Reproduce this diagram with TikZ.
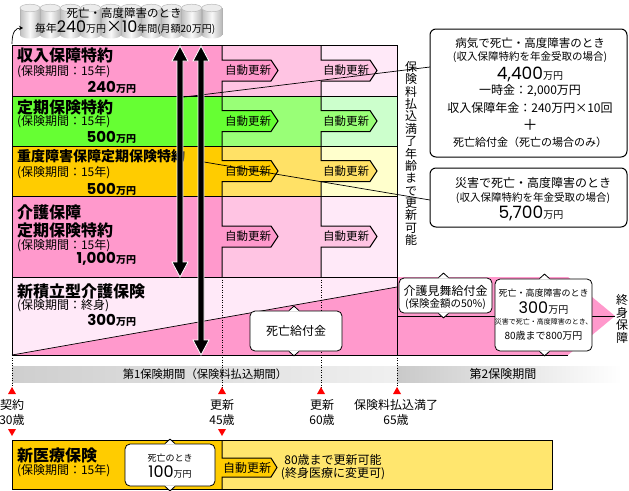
\documentclass[tikz,border=0pt]{standalone}
\usepackage{fontspec}
\setmainfont{Noto Sans CJK JP}
\newfontfamily\numf{Poppins}
\usetikzlibrary{arrows.meta}
\newcommand\fsz[1]{\fontsize{#1pt}{#1pt}\selectfont}
\definecolor{pA}{HTML}{FF99CC}
\definecolor{pB}{HTML}{FFC4E3}
\definecolor{pC}{HTML}{FFE9F8}
\definecolor{gA}{HTML}{66FF33}
\definecolor{gB}{HTML}{99FF77}
\definecolor{gC}{HTML}{CCFFCC}
\definecolor{oA}{HTML}{FFCC00}
\definecolor{oB}{HTML}{FFE166}
\definecolor{oC}{HTML}{FFFFCC}
\definecolor{yB}{HTML}{FFE66E}
\newcommand\notchup[1]{\begin{scope}[shift={(#1)}]\fill[white] (-5,1) -- (-5,0) -- (0,-4.5) -- (5,0) -- (5,1) -- cycle; \draw[line width=0.8pt] (-5,0) -- (0,-4.5) -- (5,0);\end{scope}}
\newcommand\notchdn[1]{\begin{scope}[shift={(#1)}]\fill[white] (-5,-1) -- (-5,0) -- (0,4.5) -- (5,0) -- (5,-1) -- cycle; \draw[line width=0.8pt] (-5,0) -- (0,4.5) -- (5,0);\end{scope}}
\begin{document}
\begin{tikzpicture}[x=1pt,y=-1pt,
  bline/.style={line width=1pt, black},
  thin line/.style={line width=0.7pt, black},
  t/.style={inner sep=0pt, outer sep=0pt},
  ttl/.style={t, anchor=west, font=\bfseries\fsz{16}},
  sub/.style={t, anchor=west, font=\fsz{12}},
  num/.style={t, anchor=east, font=\bfseries},
  aut/.style={t, font=\fsz{11.5}},
  callout/.style={draw, line width=1pt, rounded corners=6pt, fill=white, inner sep=0pt},
  bubble/.style={draw, line width=0.8pt, rounded corners=5pt, fill=white, inner sep=0pt},
  dline/.style={line width=0.8pt, dash pattern=on 1pt off 1.5pt},
  bigarrow/.style={fill=black, draw=white, line width=0.8pt},
  tri/.style={fill=red},
]
\useasboundingbox (0,0) rectangle (629,490);
\fill[white] (0,0) rectangle (629,490);

% ---- cylinders at top
\foreach \i in {0,...,9}{
  \pgfmathsetmacro\cx{20+20.2*\i}
  \shade[left color=gray!50, right color=gray!55, middle color=gray!5] (\cx,8) rectangle (\cx+20,35);
  \shade[left color=gray!50, right color=gray!55, middle color=gray!5] (\cx+10,35) ellipse [x radius=10, y radius=3.5];
  \draw[gray!60, line width=0.5pt] (\cx,8) -- (\cx,35) (\cx+20,8) -- (\cx+20,35);
  \fill[gray!15] (\cx+10,8) ellipse [x radius=10, y radius=3.8];
  \draw[gray!55, line width=0.5pt] (\cx+10,8) ellipse [x radius=10, y radius=3.8];
}
\node[t, font=\fsz{11.5}] (topA) at (124,13) {死亡・高度障害のとき};
\node[t] (topB) at (125,27.5) {\fsz{11}毎年\numf\fsz{16}240\rmfamily\fsz{10}万円\fsz{16}×\numf 10\rmfamily\fsz{10}年間(月額20万円)};
\coordinate (ca1) at (12,44);
\coordinate (ca2) at (23,28);
\draw[line width=0.7pt, -{Stealth[length=4pt,width=4.5pt]}] (ca1) .. controls (12,31) and (16,28) .. (ca2);

% ---- rows 1-4
\foreach \ytop/\ybot/\colA/\colB/\colC in {45/96/pA/pB/pC, 96/146/gA/gB/gC, 146/196/oA/oB/oC, 196/277/pA/pB/pC}{
  \pgfmathsetmacro\ymid{(\ytop+\ybot)/2}
  \fill[\colA] (12,\ytop) rectangle (222,\ybot);
  \fill[\colB] (222,\ytop) rectangle (321,\ybot);
  \fill[\colC] (321,\ytop) rectangle (397,\ybot);
  \fill[\colA] (221.5,\ymid-10.5) -- (271,\ymid-10.5) -- (278,\ymid) -- (271,\ymid+10.5) -- (221.5,\ymid+10.5) -- cycle;
  \fill[\colB] (320.5,\ymid-10.5) -- (370,\ymid-10.5) -- (377,\ymid) -- (370,\ymid+10.5) -- (320.5,\ymid+10.5) -- cycle;
  \draw[bline] (222,\ytop) -- (222,\ymid-10.5) -- (271,\ymid-10.5) -- (278,\ymid) -- (271,\ymid+10.5) -- (222,\ymid+10.5) -- (222,\ybot);
  \draw[bline] (321,\ytop) -- (321,\ymid-10.5) -- (370,\ymid-10.5) -- (377,\ymid) -- (370,\ymid+10.5) -- (321,\ymid+10.5) -- (321,\ybot);
  \node[aut] (auA\ytop) at (248,\ymid) {自動更新};
  \node[aut] (auB\ytop) at (346,\ymid) {自動更新};
}

% ---- row 5
\fill[pC] (12,277) rectangle (397,355);
\fill[pA] (12,355) -- (397,287) -- (397,355) -- cycle;
\fill[pA] (397,277) -- (568,277) -- (615,316) -- (568,355) -- (397,355) -- cycle;
\draw[thin line] (12,355) -- (397,287);
\draw[thin line] (397,316.5) -- (615,316.5);

% ---- grid lines
\foreach \yy in {45,96,146,196,277}{\draw[bline] (12,\yy) -- (397,\yy);}
\draw[bline] (12,45) -- (12,355);
\draw[bline] (397,45) -- (397,355);
\draw[bline] (12,355) -- (568,355);

% ---- bands
\shade[left color=gray!38, right color=gray!12] (12,366) rectangle (397,382);
\shade[left color=gray!42, right color=white] (397,366) rectangle (622,382);
\node[t, font=\fsz{11.3}] (band1) at (205,374) {第1保険期間（保険料払込期間）};
\node[t, font=\fsz{12}] (band2) at (503,374) {第2保険期間};

% ---- dotted lines
\draw[dline] (12,355) -- (12,388);
\draw[dline] (222,277) -- (222,388);
\draw[dline] (321,277) -- (321,388);
\draw[dline] (397,355) -- (397,388);

% ---- red triangles
\foreach \xx in {12,222,321,397}{\fill[tri] (\xx-4,394) -- (\xx,387) -- (\xx+4,394) -- cycle;}
\foreach \xx in {12,222}{\fill[tri] (\xx-4,429) -- (\xx+4,429) -- (\xx,436) -- cycle;}

% ---- timeline labels
\node[t, font=\fsz{12}] (k1) at (12,405) {契約};
\node[t, font=\fsz{12}] (k2) at (12,420) {30歳};
\node[t, font=\fsz{12}] (r1a) at (222,405) {更新};
\node[t, font=\fsz{12}] (r1b) at (222,420) {45歳};
\node[t, font=\fsz{12}] (r2a) at (322,405) {更新};
\node[t, font=\fsz{12}] (r2b) at (322,420) {60歳};
\node[t, font=\fsz{12}] (pe1) at (396,405) {保険料払込満了};
\node[t, font=\fsz{12}] (pe2) at (396,420) {65歳};

% ---- row texts
\node[ttl] (t1) at (17,55) {収入保障特約};
\node[sub] (s1) at (17,72) {(保険期間：15年)};
\node[num] (n1) at (136,87) {\numf\fsz{15}240\rmfamily\fsz{10}万円};
\node[ttl] (t2) at (17,107) {定期保険特約};
\node[sub] (s2) at (17,122) {(保険期間：15年)};
\node[num] (n2) at (136,137) {\numf\fsz{15}500\rmfamily\fsz{10}万円};
\node[ttl, font=\bfseries\fsz{14}] (t3) at (17,156) {重度障害保障定期保険特約};
\node[sub] (s3) at (17,173) {(保険期間：15年)};
\node[num] (n3) at (136,189) {\numf\fsz{15}500\rmfamily\fsz{10}万円};
\node[ttl] (t4a) at (17,212) {介護保障};
\node[ttl] (t4b) at (17,230) {定期保険特約};
\node[sub] (s4) at (17,246) {(保険期間：15年)};
\node[num] (n4) at (136,259) {\numf\fsz{15}1,000\rmfamily\fsz{10}万円};
\node[ttl] (t5) at (17,291) {新積立型介護保険};
\node[sub] (s5) at (17,306) {(保険期間：終身)};
\node[num] (n5) at (136,320.5) {\numf\fsz{15}300\rmfamily\fsz{10}万円};

% ---- vertical texts
\node[t, align=center, font=\fontsize{12pt}{12.36pt}\selectfont] (vt) at (411,153.5) {保\\険\\料\\払\\込\\満\\了\\年\\齢\\ま\\で\\更\\新\\可\\能};
\node[t, align=center, font=\fontsize{12pt}{12.7pt}\selectfont] (vt2) at (622,319) {終\\身\\保\\障};

% ---- callout lines
\coordinate (l1a) at (180,97.5);
\coordinate (l1b) at (430,67);
\coordinate (l2a) at (201,161.5);
\coordinate (l2b) at (430,200);
\draw[thin line] (l1a) -- (l1b);
\draw[thin line] (l2a) -- (l2b);

% ---- big arrows
\draw[bigarrow] (180,46) -- (188,61) -- (183,61) -- (183,262) -- (188,262) -- (180,277) -- (172,262) -- (177,262) -- (177,61) -- (172,61) -- cycle;
\draw[bigarrow] (201,46) -- (209,61) -- (204,61) -- (204,340) -- (209,340) -- (201,355) -- (193,340) -- (198,340) -- (198,61) -- (193,61) -- cycle;

% ---- callout boxes
\node[callout, minimum width=197pt, minimum height=128pt] (box1) at (528.5,93) {};
\node[t, font=\fsz{11.5}] (b1a) at (530,43) {病気で死亡・高度障害のとき};
\node[t, font=\fsz{10.5}] (b1b) at (530,57) {(収入保障特約を年金受取の場合)};
\node[t] (b1c) at (530,74) {\numf\fsz{17}4,400\rmfamily\fsz{10}万円};
\node[t, font=\fsz{12}] (b1d) at (530,91) {一時金：2,000万円};
\node[t, font=\fsz{12}] (b1e) at (530,108) {収入保障年金：240万円×10回};
\node[t, font=\fsz{15}] (b1f) at (530,125) {＋};
\node[t, font=\fsz{11}] (b1g) at (530,142) {死亡給付金（死亡の場合のみ）};

\node[callout, minimum width=197pt, minimum height=59pt] (box2) at (528.5,197.5) {};
\node[t, font=\fsz{12}] (b2a) at (533,183) {災害で死亡・高度障害のとき};
\node[t, font=\fsz{10.5}] (b2b) at (533,198) {(収入保障特約を年金受取の場合)};
\node[t] (b2c) at (531,213.5) {\numf\fsz{17}5,700\rmfamily\fsz{10}万円};

% ---- bubbles in row 5
\node[bubble, minimum width=92pt, minimum height=40pt] (bub1) at (296,331) {};
\notchup{[xshift=-2pt]bub1.north}
\notchdn{[xshift=-2pt]bub1.south}
\node[t, font=\fsz{12}] (bub1t) at (296,331) {死亡給付金};

\node[bubble, minimum width=93pt, minimum height=35pt] (bub2) at (445.5,295.5) {};
\notchup{[xshift=-2pt]bub2.north}
\notchdn{[xshift=-2pt]bub2.south}
\node[t, font=\fsz{12}] (bub2a) at (445.5,291) {介護見舞給付金};
\node[t, font=\fsz{10.5}] (bub2b) at (445.5,304) {(保険金額の50\%)};

\node[bubble, minimum width=97pt, minimum height=72pt] (bub3) at (543.5,315) {};
\notchup{[xshift=1pt]bub3.north}
\notchdn{[xshift=1pt]bub3.south}
\node[t, font=\fsz{9}] (bub3a) at (543.5,293) {死亡・高度障害のとき};
\node[t] (bub3b) at (543.5,308) {\numf\fsz{16}300\rmfamily\fsz{10}万円};
\node[t, font=\fsz{7}] (bub3c) at (543.5,322) {災害で死亡・高度障害のとき、};
\node[t, font=\fsz{10}] (bub3d) at (543.5,336) {80歳まで800万円};

% ---- bottom box
\fill[oA] (12,440) rectangle (222,489);
\fill[yB] (222,440) rectangle (552,489);
\fill[oA] (221.5,458) -- (271,458) -- (277,467.5) -- (271,477) -- (221.5,477) -- cycle;
\draw[bline] (12,440) rectangle (552,489);
\draw[bline] (222,440) -- (222,458) -- (271,458) -- (277,467.5) -- (271,477) -- (222,477) -- (222,489);
\node[ttl] (t6) at (17,455) {新医療保険};
\node[sub] (s6) at (17,471) {(保険期間：15年)};
\node[bubble, minimum width=90pt, minimum height=42pt] (bub4) at (170,465) {};
\notchup{bub4.north}
\notchdn{bub4.south}
\node[t, font=\fsz{9}] (bub4a) at (170,458) {死亡のとき};
\node[t] (bub4b) at (170,472) {\numf\fsz{16}100\rmfamily\fsz{9}万円};
\node[aut, font=\fsz{12}] (au6) at (247,467.5) {自動更新};
\node[t, font=\fsz{12}] (m1) at (333,460) {80歳まで更新可能};
\node[t, font=\fsz{12}] (m2) at (333,474) {(終身医療に変更可)};
\end{tikzpicture}
\end{document}
